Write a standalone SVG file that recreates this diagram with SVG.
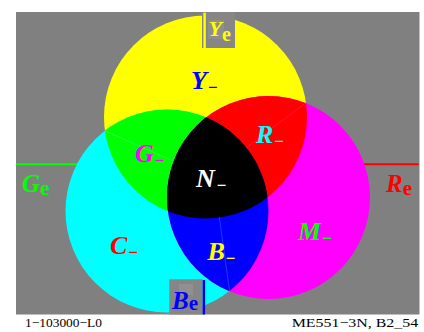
<svg xmlns="http://www.w3.org/2000/svg" width="424" height="332" viewBox="0 0 424 332">
<defs>
<style>
.lab{font-family:"Liberation Serif","Times New Roman",serif;font-weight:bold;font-style:italic;font-size:26px}
.sub{font-style:normal;font-size:17px}
.e{font-family:"Liberation Serif","Times New Roman",serif;font-weight:bold;font-style:normal;font-size:21px}
.big{font-family:"Liberation Serif","Times New Roman",serif;font-weight:bold;font-style:italic;font-size:25px}
.foot{font-family:"Liberation Serif","Times New Roman",serif;font-size:13px;fill:#000}
.seam{stroke-width:0.7;fill:none}
</style>
<clipPath id="cY"><circle cx="205.5" cy="117" r="101.5"/></clipPath>
<clipPath id="cM"><circle cx="268.5" cy="197.5" r="101.5"/></clipPath>
</defs>
<rect x="0" y="0" width="424" height="332" fill="#fff"/>
<rect x="16" y="12" width="403.5" height="302.5" fill="#808080"/>
<g id="connectors">
<line x1="16" y1="164.3" x2="110" y2="164.3" stroke="#00ff00" stroke-width="2"/>
<line x1="330" y1="164.3" x2="418.5" y2="164.3" stroke="#ff0000" stroke-width="2"/>
</g>
<g id="yellow"><circle cx="205.5" cy="117" r="101.5" fill="#ffff00"/></g>
<g id="cyan"><circle cx="167" cy="211" r="101.5" fill="#00ffff"/></g>
<g id="magenta"><circle cx="268.5" cy="197.5" r="101.5" fill="#ff00ff"/></g>
<g id="green" clip-path="url(#cY)"><circle cx="167" cy="211" r="101.5" fill="#00ff00"/></g>
<g id="red" clip-path="url(#cY)"><circle cx="268.5" cy="197.5" r="101.5" fill="#ff0000"/></g>
<g id="blue" clip-path="url(#cM)"><circle cx="167" cy="211" r="101.5" fill="#0000ff"/></g>
<g id="black" clip-path="url(#cY)"><g clip-path="url(#cM)"><circle cx="167" cy="211" r="101.5" fill="#000"/></g></g>
<g id="seams">
<line class="seam" x1="306" y1="102.7" x2="246" y2="148" stroke="#ff3070" opacity="0.6"/>
<line class="seam" x1="105" y1="131" x2="170" y2="159.5" stroke="#60ffa0" opacity="0.6"/>
<line class="seam" x1="229.5" y1="290.5" x2="219.3" y2="217" stroke="#4090ff" opacity="0.6"/>
</g>
<g id="Ye">
<rect x="202" y="12" width="33" height="36" fill="#868686"/>
<rect x="208" y="20" width="16" height="19" fill="#8e8e8e"/>
<rect x="203.4" y="12.7" width="2.4" height="35.3" fill="#ffff00"/>
<text x="208.5" y="36.3" class="big" fill="#ffff00" style="font-size:22px">Y<tspan class="e" dy="5" style="font-size:20px">e</tspan></text>
</g>
<g id="Be">
<rect x="169.3" y="279.3" width="33.4" height="35.2" fill="#868686"/>
<rect x="179" y="284" width="14" height="11" fill="#909090"/>
<rect x="202.7" y="280" width="2.4" height="34.5" fill="#0000ff"/>
<text x="172" y="309" class="big" fill="#0000ff">B<tspan class="e" dy="1">e</tspan></text>
</g>
<g id="Ge"><text x="22" y="191.7" class="big" fill="#00ff00">G<tspan class="e" dy="3.3">e</tspan></text></g>
<g id="Re"><text x="386" y="191.7" class="big" fill="#ff0000">R<tspan class="e" dy="3.3">e</tspan></text></g>
<g id="labels">
<text x="191" y="89" class="lab" fill="#0000ff">Y<tspan class="sub" dx="1" dy="4">−</tspan></text>
<text x="135" y="162" class="lab" fill="#ff00ff">G<tspan class="sub" dx="1" dy="4">−</tspan></text>
<text x="256" y="143.3" class="lab" fill="#00ffff">R<tspan class="sub" dx="1" dy="4">−</tspan></text>
<text x="196" y="187" class="lab" fill="#ffffff">N<tspan class="sub" dx="2" dy="4">−</tspan></text>
<text x="110" y="254" class="lab" fill="#ff0000">C<tspan class="sub" dx="1" dy="4">−</tspan></text>
<text x="207.5" y="260" class="lab" fill="#ffff00">B<tspan class="sub" dx="1" dy="4">−</tspan></text>
<text x="298" y="240" class="lab" fill="#00ff00">M<tspan class="sub" dx="1" dy="4">−</tspan></text>
</g>
<g id="footer">
<text x="25" y="327" class="foot" textLength="77" lengthAdjust="spacingAndGlyphs">1−103000−L0</text>
<text x="291.7" y="327" class="foot" textLength="126.5" lengthAdjust="spacingAndGlyphs">ME551−3N, B2_54</text>
</g>
</svg>
